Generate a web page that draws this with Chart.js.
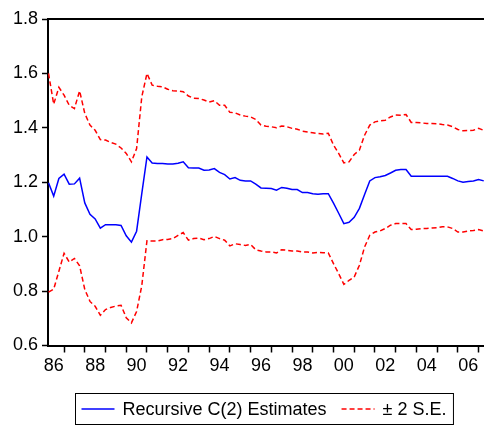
<!DOCTYPE html>
<html>
<head>
<meta charset="utf-8">
<script src="https://cdn.jsdelivr.net/npm/chart.js@4.4.1/dist/chart.umd.min.js"></script>
<style>
  html, body { margin: 0; padding: 0; background: #fff; overflow: hidden; }
  #wrap { width: 490px; height: 426px; }
</style>
</head>
<body>
<div id="wrap"><canvas id="coefChart" width="490" height="426"></canvas></div>
<script>
// quarterly sample, first observation 1986Q2
const firstYear = 1986;
const firstQuarter = 2;

// recursive estimate of C(2)
const estimate = [
  1.198, 1.149, 1.214, 1.230, 1.193, 1.194, 1.215, 1.124, 1.082, 1.065,
  1.031, 1.044, 1.044, 1.044, 1.041, 1.003, 0.980, 1.020, 1.158, 1.293,
  1.271, 1.269, 1.269, 1.267, 1.267, 1.270, 1.275, 1.253, 1.252, 1.252,
  1.244, 1.245, 1.250, 1.236, 1.228, 1.212, 1.217, 1.207, 1.205, 1.205,
  1.193, 1.179, 1.178, 1.177, 1.171, 1.181, 1.178, 1.173, 1.173, 1.162,
  1.162, 1.158, 1.156, 1.158, 1.158, 1.123, 1.086, 1.048, 1.053, 1.071,
  1.104, 1.155, 1.205, 1.217, 1.220, 1.225, 1.234, 1.244, 1.247, 1.247,
  1.222, 1.222, 1.222, 1.222, 1.222, 1.222, 1.222, 1.222, 1.214, 1.205,
  1.200, 1.203, 1.205, 1.210, 1.205
];

// +2 S.E. band
const upperBand = [
  1.600, 1.487, 1.549, 1.520, 1.483, 1.471, 1.536, 1.453, 1.410, 1.391,
  1.357, 1.355, 1.346, 1.340, 1.326, 1.306, 1.275, 1.324, 1.514, 1.600,
  1.557, 1.553, 1.551, 1.542, 1.536, 1.535, 1.533, 1.517, 1.509, 1.508,
  1.502, 1.495, 1.500, 1.483, 1.483, 1.457, 1.455, 1.447, 1.443, 1.440,
  1.431, 1.410, 1.406, 1.404, 1.400, 1.407, 1.404, 1.398, 1.395, 1.388,
  1.385, 1.382, 1.379, 1.377, 1.380, 1.337, 1.306, 1.271, 1.275, 1.302,
  1.318, 1.373, 1.410, 1.422, 1.426, 1.428, 1.440, 1.447, 1.446, 1.449,
  1.420, 1.420, 1.418, 1.416, 1.416, 1.415, 1.412, 1.410, 1.404, 1.394,
  1.389, 1.390, 1.391, 1.398, 1.391
];

// -2 S.E. band
const lowerBand = [
  0.796, 0.807, 0.873, 0.939, 0.907, 0.920, 0.893, 0.806, 0.762, 0.744,
  0.711, 0.732, 0.740, 0.745, 0.748, 0.702, 0.683, 0.725, 0.820, 0.985,
  0.984, 0.984, 0.989, 0.990, 0.993, 1.005, 1.015, 0.987, 0.993, 0.995,
  0.989, 0.993, 1.001, 0.993, 0.987, 0.966, 0.974, 0.971, 0.968, 0.971,
  0.952, 0.947, 0.944, 0.944, 0.940, 0.952, 0.950, 0.947, 0.947, 0.944,
  0.944, 0.940, 0.942, 0.941, 0.940, 0.901, 0.864, 0.825, 0.839, 0.852,
  0.895, 0.962, 1.005, 1.017, 1.021, 1.030, 1.042, 1.048, 1.048, 1.048,
  1.026, 1.027, 1.030, 1.030, 1.032, 1.033, 1.036, 1.036, 1.030, 1.017,
  1.017, 1.021, 1.023, 1.026, 1.021
];

const yTicks = [0.6, 0.8, 1.0, 1.2, 1.4, 1.6, 1.8];
const labelYears = [1986, 1988, 1990, 1992, 1994, 1996, 1998, 2000, 2002, 2004, 2006];
const legendLabels = ['Recursive C(2) Estimates', '\u00b1 2 S.E.'];

// time position of each quarter
const toTime = i => firstYear + (firstQuarter - 1) / 4 + i / 4;
const toPoints = arr => arr.map((v, i) => ({ x: toTime(i), y: v }));

// tick marks on year boundaries, labels centred inside the year
const tickMarks = [];
for (let y = 1987; y <= 2007; y++) tickMarks.push(y);
const xTickValues = tickMarks.concat(labelYears.map(y => y + 0.5)).sort((a, b) => a - b);

const FONT = '"Liberation Sans", Arial, Helvetica, sans-serif';
Chart.defaults.font.family = FONT;
Chart.defaults.color = '#000';

const frame = {
  id: 'frame',
  afterDatasetsDraw(chart) {
    const { ctx, chartArea: a } = chart;
    ctx.save();
    ctx.strokeStyle = '#000';
    ctx.lineWidth = 2;
    ctx.beginPath();
    ctx.moveTo(a.left - 1, Math.round(a.top));
    ctx.lineTo(a.right, Math.round(a.top));
    ctx.lineTo(a.right, a.bottom);
    ctx.stroke();
    ctx.restore();
  }
};

// boxed legend under the plot, centred on the plot area
const boxLegend = {
  id: 'boxLegend',
  afterDraw(chart) {
    const { ctx, chartArea: a } = chart;
    const ds = chart.data.datasets;
    const items = [
      { text: legendLabels[0], color: ds[0].borderColor, dash: [] },
      { text: legendLabels[1], color: ds[1].borderColor, dash: ds[1].borderDash }
    ];
    ctx.save();
    ctx.font = '18px ' + FONT;
    const lineLen = 33, gap = 8, spacing = 15, padL = 6, padR = 7;
    const widths = items.map(it => ctx.measureText(it.text).width);
    let total = padL + padR + spacing * (items.length - 1);
    widths.forEach(w => { total += lineLen + gap + w; });
    const left = Math.floor((a.left + a.right) / 2 - total / 2) - 1.5;
    const top = 393.5;
    const h = 31;
    const cy = top + h / 2;

    ctx.strokeStyle = '#000';
    ctx.lineWidth = 1;
    ctx.strokeRect(left, top, total, h);

    let x = left + padL;
    items.forEach((it, i) => {
      ctx.beginPath();
      ctx.setLineDash(it.dash);
      ctx.strokeStyle = it.color;
      ctx.lineWidth = 1.5;
      ctx.moveTo(x, cy);
      ctx.lineTo(x + lineLen, cy);
      ctx.stroke();
      ctx.setLineDash([]);
      x += lineLen + gap;
      ctx.fillStyle = '#000';
      ctx.textBaseline = 'middle';
      ctx.textAlign = 'left';
      ctx.fillText(it.text, x, cy + 1);
      x += widths[i] + spacing;
    });
    ctx.restore();
  }
};

new Chart(document.getElementById('coefChart'), {
  type: 'line',
  data: {
    datasets: [
      {
        label: legendLabels[0],
        data: toPoints(estimate),
        borderColor: '#0000ff',
        borderWidth: 1.5,
        pointRadius: 0,
        tension: 0
      },
      {
        label: legendLabels[1],
        data: toPoints(upperBand),
        borderColor: '#ff0000',
        borderWidth: 1.5,
        borderDash: [5, 3],
        pointRadius: 0,
        tension: 0
      },
      {
        label: legendLabels[1],
        data: toPoints(lowerBand),
        borderColor: '#ff0000',
        borderWidth: 1.5,
        borderDash: [5, 3],
        pointRadius: 0,
        tension: 0
      }
    ]
  },
  options: {
    responsive: false,
    animation: false,
    devicePixelRatio: 1,
    layout: { padding: { top: 19, right: 5, bottom: 0, left: 0 } },
    plugins: {
      legend: { display: false },
      tooltip: { enabled: false }
    },
    scales: {
      x: {
        type: 'linear',
        min: 1986.225,
        max: 2007.31,
        afterBuildTicks: scale => { scale.ticks = xTickValues.map(v => ({ value: v })); },
        afterFit: scale => { scale.height = 80.5; },
        ticks: {
          autoSkip: false,
          maxRotation: 0,
          padding: 3,
          color: '#000',
          font: { size: 18 },
          callback: v => Number.isInteger(v) ? '' : String(Math.floor(v) % 100).padStart(2, '0')
        },
        grid: {
          drawOnChartArea: false,
          tickLength: 7,
          tickWidth: 1.5,
          tickColor: c => (c.tick && Number.isInteger(c.tick.value)) ? '#000' : 'rgba(0,0,0,0)'
        },
        border: { color: '#000', width: 2 }
      },
      y: {
        min: yTicks[0],
        max: yTicks[yTicks.length - 1],
        afterFit: scale => { scale.width = 48; },
        afterBuildTicks: scale => { scale.ticks = yTicks.map(v => ({ value: v })); },
        ticks: {
          padding: 4,
          color: '#000',
          font: { size: 18 },
          callback: v => v.toFixed(1)
        },
        grid: {
          drawOnChartArea: false,
          tickLength: 6,
          tickWidth: 1.5,
          tickColor: '#000'
        },
        border: { color: '#000', width: 2 }
      }
    }
  },
  plugins: [frame, boxLegend]
});
</script>
</body>
</html>
